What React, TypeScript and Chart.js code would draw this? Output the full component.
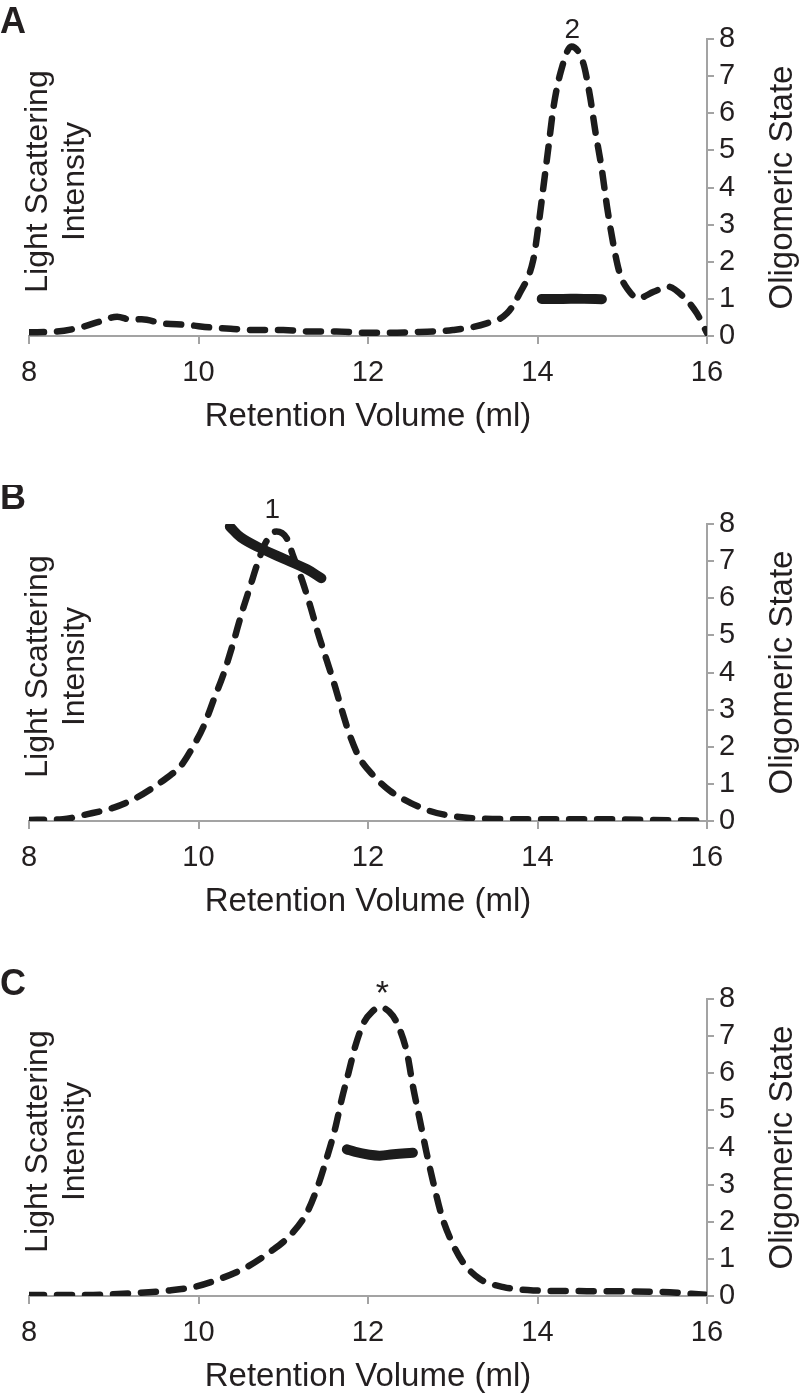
import React, { useEffect, useRef } from 'react';
import { Chart, registerables } from 'chart.js';

Chart.register(...registerables);

// ---------- data ----------
const xTickValues = [8, 10, 12, 14, 16];
const yTickValues = [0, 1, 2, 3, 4, 5, 6, 7, 8];

const xTitle = 'Retention Volume (ml)';
const leftTitleLines = ['Light Scattering', 'Intensity'];
const rightTitle = 'Oligomeric State';
const panelLetters = ['A', 'B', 'C'];
const peakLabels = ['2', '1', '*'];
const peakVolumes = [14.41, 10.87, 12.17];

// Panel A – light scattering trace (retention volume, intensity)
const volA = [8.0, 8.33, 8.57, 8.84, 9.04, 9.2, 9.33, 9.58, 9.86, 10.14, 10.41, 10.69, 11.0, 11.32, 11.63, 11.94, 12.22, 12.61, 13.0, 13.4, 13.64, 13.79, 13.95, 14.01, 14.07, 14.13, 14.19, 14.27, 14.4, 14.54, 14.62, 14.68, 14.76, 14.82, 14.9, 14.97, 15.07, 15.19, 15.37, 15.54, 15.72, 15.88, 16.0];
const lsA = [0.1, 0.12, 0.21, 0.39, 0.52, 0.44, 0.45, 0.34, 0.3, 0.23, 0.19, 0.16, 0.16, 0.12, 0.12, 0.09, 0.09, 0.11, 0.16, 0.34, 0.61, 1.15, 2.05, 2.95, 4.02, 5.1, 6.18, 7.08, 7.8, 7.35, 6.45, 5.55, 4.47, 3.49, 2.41, 1.69, 1.24, 1.02, 1.19, 1.33, 1.06, 0.61, 0.08];
// Panel A – oligomeric state
const oligoVolA = [14.05, 14.3, 14.55, 14.76];
const oligoA = [1.0, 1.0, 1.0, 0.99];

// Panel B
const volB = [8.0, 8.4, 8.68, 9.0, 9.23, 9.43, 9.63, 9.79, 9.94, 10.06, 10.18, 10.3, 10.41, 10.51, 10.61, 10.71, 10.8, 10.92, 11.04, 11.12, 11.22, 11.32, 11.41, 11.51, 11.61, 11.69, 11.79, 11.9, 12.07, 12.26, 12.5, 12.73, 13.0, 13.28, 13.87, 14.66, 15.25, 16.0];
const lsB = [0.03, 0.05, 0.18, 0.36, 0.58, 0.85, 1.17, 1.48, 2.02, 2.55, 3.27, 3.99, 4.8, 5.6, 6.32, 7.03, 7.53, 7.8, 7.62, 7.12, 6.5, 5.78, 5.06, 4.35, 3.63, 3.0, 2.28, 1.7, 1.21, 0.81, 0.49, 0.27, 0.13, 0.07, 0.05, 0.05, 0.03, 0.01];
const oligoVolB = [10.37, 10.5, 10.73, 11.04, 11.28, 11.45];
const oligoB = [7.93, 7.64, 7.35, 7.03, 6.78, 6.54];

// Panel C
const volC = [8.0, 8.68, 9.27, 9.66, 9.94, 10.25, 10.57, 10.84, 11.08, 11.28, 11.41, 11.51, 11.61, 11.69, 11.77, 11.85, 11.95, 12.05, 12.14, 12.25, 12.34, 12.46, 12.53, 12.61, 12.69, 12.77, 12.87, 12.99, 13.12, 13.32, 13.6, 13.95, 14.66, 15.45, 16.0];
const lsC = [0.03, 0.03, 0.08, 0.15, 0.24, 0.46, 0.78, 1.18, 1.63, 2.25, 2.97, 3.69, 4.49, 5.3, 6.01, 6.73, 7.36, 7.66, 7.78, 7.66, 7.36, 6.55, 5.65, 4.76, 3.87, 3.06, 2.16, 1.45, 0.91, 0.46, 0.24, 0.15, 0.13, 0.11, 0.03];
const oligoVolC = [11.75, 11.85, 12.0, 12.14, 12.3, 12.53];
const oligoC = [3.95, 3.88, 3.81, 3.78, 3.82, 3.86];

// ---------- styles ----------
const FONT = '"Liberation Sans", Arial, sans-serif';
const TEXT = '#231f20';
const AXIS = '#a3a3a3';
const LINE = '#1c1c1c';

type PanelProps = {
  top: number;
  letter: string;
  letterBaseline: number;
  vol: number[];
  ls: number[];
  oligoVol: number[];
  oligo: number[];
  peakLabel: string;
  peakVol: number;
  peakOffset: number;
  peakFont: number;
};

function Panel(props: PanelProps) {
  const ref = useRef<HTMLCanvasElement | null>(null);
  useEffect(() => {
    if (!ref.current) return;
    const toPts = (xs: number[], ys: number[]) => xs.map((x, i) => ({ x, y: ys[i] }));
    const textPlugin = {
      id: 'panelText',
      afterDraw(chart: any) {
        const ctx = chart.ctx as CanvasRenderingContext2D;
        const { top, bottom } = chart.chartArea;
        const midY = (top + bottom) / 2;
        ctx.save();
        ctx.fillStyle = TEXT;
        ctx.textAlign = 'center';
        ctx.textBaseline = 'alphabetic';
        ctx.font = `32px ${FONT}`;
        const baseX = [47, 84];
        leftTitleLines.forEach((t, i) => {
          ctx.save();
          ctx.translate(baseX[i], midY - 6);
          ctx.rotate(-Math.PI / 2);
          ctx.fillText(t, 0, 0);
          ctx.restore();
        });
        ctx.font = `33px ${FONT}`;
        ctx.save();
        ctx.translate(792, midY);
        ctx.rotate(-Math.PI / 2);
        ctx.fillText(rightTitle, 0, 0);
        ctx.restore();
        // panel letter
        ctx.font = `bold 36px ${FONT}`;
        ctx.textAlign = 'left';
        ctx.fillText(props.letter, 0, props.letterBaseline);
        // peak label
        ctx.font = `${props.peakFont}px ${FONT}`;
        ctx.textAlign = 'center';
        const px = chart.scales.x.getPixelForValue(props.peakVol);
        ctx.fillText(props.peakLabel, px, top + props.peakOffset);
        ctx.restore();
      },
    };
    const chart = new Chart(ref.current, {
      type: 'line',
      data: {
        datasets: [
          {
            data: toPts(props.oligoVol, props.oligo),
            borderColor: LINE,
            borderWidth: 10,
            borderCapStyle: 'round',
            borderJoinStyle: 'round',
            pointRadius: 0,
            tension: 0.4,
            yAxisID: 'y',
          },
          {
            data: toPts(props.vol, props.ls),
            borderColor: LINE,
            borderWidth: 6.5,
            borderDash: [15, 13],
            borderCapStyle: 'round',
            pointRadius: 0,
            cubicInterpolationMode: 'monotone',
            yAxisID: 'yL',
          },
        ],
      },
      options: {
        animation: false,
        responsive: false,
        events: [],
        layout: { padding: { top: 39, left: 29, right: 65, bottom: 0 } },
        plugins: { legend: { display: false }, tooltip: { enabled: false } },
        scales: {
          x: {
            type: 'linear',
            min: 8,
            max: 16,
            afterBuildTicks: (s: any) => {
              s.ticks = xTickValues.map((v) => ({ value: v }));
            },
            afterFit: (s: any) => {
              s.height = 104;
            },
            ticks: { color: TEXT, font: { family: FONT, size: 29 }, padding: 12, autoSkip: false, maxRotation: 0 },
            grid: { drawOnChartArea: false, drawTicks: true, tickLength: 8, color: AXIS, lineWidth: 2 },
            border: { display: true, color: AXIS, width: 2 },
            title: {
              display: true,
              text: xTitle,
              color: TEXT,
              font: { family: FONT, size: 33 },
              padding: { top: 4, bottom: 3 },
            },
          },
          y: {
            type: 'linear',
            position: 'right',
            min: 0,
            max: 8,
            afterBuildTicks: (s: any) => {
              s.ticks = yTickValues.map((v) => ({ value: v }));
            },
            afterFit: (s: any) => {
              s.width = 28;
            },
            ticks: { color: TEXT, font: { family: FONT, size: 29 }, padding: 5, autoSkip: false },
            grid: { drawOnChartArea: false, drawTicks: true, tickLength: 7, color: AXIS, lineWidth: 2 },
            border: { display: true, color: AXIS, width: 2 },
          },
          yL: {
            type: 'linear',
            position: 'left',
            display: false,
            min: 0,
            max: 8,
          },
        },
      } as any,
      plugins: [textPlugin],
    });
    return () => chart.destroy();
  }, []);
  return (
    <div style={{ position: 'absolute', left: 0, top: props.top, width: 800, height: 440 }}>
      <canvas ref={ref} width={800} height={440} style={{ display: 'block' }} />
    </div>
  );
}

export default function App() {
  return (
    <div style={{ position: 'absolute', left: 0, top: 0, width: 800, height: 1400, background: '#fff', overflow: 'hidden' }}>
      <Panel top={0} letter={panelLetters[0]} letterBaseline={33} vol={volA} ls={lsA} oligoVol={oligoVolA} oligo={oligoA}
        peakLabel={peakLabels[0]} peakVol={peakVolumes[0]} peakOffset={-1} peakFont={28} />
      <Panel top={485} letter={panelLetters[1]} letterBaseline={24} vol={volB} ls={lsB} oligoVol={oligoVolB} oligo={oligoB}
        peakLabel={peakLabels[1]} peakVol={peakVolumes[1]} peakOffset={-6} peakFont={28} />
      <Panel top={960} letter={panelLetters[2]} letterBaseline={35} vol={volC} ls={lsC} oligoVol={oligoVolC} oligo={oligoC}
        peakLabel={peakLabels[2]} peakVol={peakVolumes[2]} peakOffset={5} peakFont={34} />
    </div>
  );
}
